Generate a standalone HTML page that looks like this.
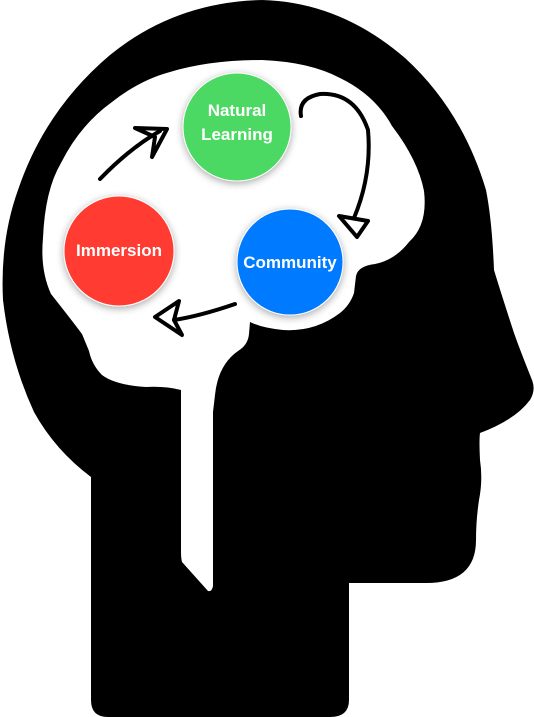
<!DOCTYPE html>
<html><head><style>
html,body{margin:0;padding:0;background:#fff;width:534px;height:717px;overflow:hidden}
svg{display:block}
text{font-family:"Liberation Sans",sans-serif;font-weight:bold;fill:#fff;font-size:17px;text-anchor:middle}
</style></head><body>
<svg width="534" height="717" viewBox="0 0 534 717">
<defs><filter id="sh" x="-30%" y="-30%" width="160%" height="160%"><feGaussianBlur in="SourceAlpha" stdDeviation="4"/><feOffset dy="2"/><feComponentTransfer><feFuncA type="linear" slope="0.35"/></feComponentTransfer><feMerge><feMergeNode/><feMergeNode in="SourceGraphic"/></feMerge></filter></defs>
<path fill="#000" d="M91,477 L91,700 Q91,717 108,717 L330,717 Q349,717 349,700 L349,583 L426,583 Q476,583 476,540 Q476,520 479,500 Q483,480 480,460 Q479,440 480,433 Q515,420 530,400 Q536,390 532,380 Q520,350 514,333 Q500,290 494,270 Q492,220 486,190 Q462,110 405,58 Q340,2 262,0 Q175,2 110,55 Q45,110 18,190 Q0,240 3,300 Q10,360 34,412 Q55,450 91,477 Z"/>
<path fill="#fff" d="M262,60 Q310,62 340,78 Q375,95 392,126 Q418,160 424,191 Q428,225 409,242 Q395,260 375,264 Q358,266 356,276 L354,293 Q350,305 340,313 Q315,332 283,330 Q262,328 250,322 L249,334 Q248,345 238,351 Q218,365 215,395 L213,412 L213,586 Q212,592 208,591 L182,562 Q181,558 181,552 L181,390 Q165,386 146,387 Q115,385 102,375 Q92,365 89,351 L82,334 Q70,318 51,294 Q40,270 43,238 Q45,190 61,163 Q80,125 112,102 Q140,80 170,72 Q210,60 262,60 Z"/>
<g filter="url(#sh)">
<circle cx="237" cy="127" r="54" fill="#4cd964" stroke="#fff" stroke-width="1"/>
<circle cx="119" cy="251" r="55" fill="#ff3b30" stroke="#fff" stroke-width="1"/>
<circle cx="290" cy="262" r="53" fill="#007aff" stroke="#fff" stroke-width="1"/>
</g>
<text x="237" y="116">Natural</text>
<text x="237" y="140">Learning</text>
<text x="119" y="256">Immersion</text>
<text x="290" y="268">Community</text>
<g fill="none" stroke="#000" stroke-width="4" stroke-linecap="round" stroke-linejoin="round">
<path d="M100,179 Q130,148 160,131"/>
<path d="M135,128 L167,129 L152,157 L155,137 Z"/>
<path d="M301,116 Q298,98 320,94 Q355,92 368,130 Q372,175 354,218"/>
<path d="M339,216 L368,221 L357,237 Z"/>
<path d="M235,304 Q200,316 174,320"/>
<path d="M179,301 L155,317 L182,335 L174,320 Z"/>
</g>
</svg>
</body></html>
